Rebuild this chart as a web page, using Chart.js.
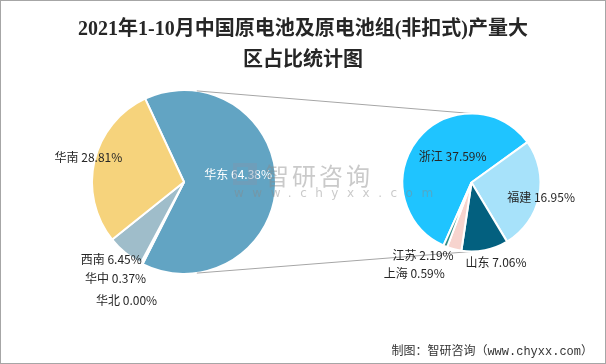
<!DOCTYPE html>
<html><head><meta charset="utf-8">
<script src="https://cdn.jsdelivr.net/npm/chart.js@4.4.0/dist/chart.umd.min.js"></script>
<style>
html,body{margin:0;padding:0;background:#fff;}
#wrap{position:relative;width:606px;height:364px;overflow:hidden;background:#fff;}
canvas{position:absolute;left:0;top:0;}
#frame{position:absolute;left:0;top:0;width:606px;height:364px;box-sizing:border-box;border:1px solid #a6a6a6;pointer-events:none;}
#title{position:absolute;left:0;top:13px;width:606px;text-align:center;font:bold 20px "Liberation Serif","Noto Sans CJK SC",serif;line-height:31px;color:#262626;}
#footer{position:absolute;right:13px;top:341px;font:12px "Liberation Mono","Noto Sans CJK SC",monospace;color:#333;white-space:nowrap;}
#wm{position:absolute;left:233px;top:161px;opacity:0.45;pointer-events:none;}
#wm .logo{position:absolute;left:0;top:2px;width:24px;height:22px;box-sizing:border-box;border:4px solid #7f98b0;border-right-width:9px;}
#wm .cn{position:absolute;left:32px;top:-4px;font:24px "Noto Sans CJK SC",sans-serif;letter-spacing:3px;color:#8a8a8a;white-space:nowrap;}
#wm .en{position:absolute;left:1px;top:25px;font:12px "DejaVu Sans",sans-serif;letter-spacing:8.5px;color:#8a8a8a;white-space:nowrap;}
</style></head>
<body>
<div id="wrap">
  <canvas id="c1" width="606" height="364"></canvas>
  <canvas id="c2" width="606" height="364"></canvas>
  <div id="title">2021年1-10月中国原电池及原电池组(非扣式)产量大<br>区占比统计图</div>
  <div id="wm"><div class="logo"></div><div class="cn">智研咨询</div><div class="en">www.chyxx.com</div></div>
  <div id="footer">制图：智研咨询（www.chyxx.com）</div>
  <div id="frame"></div>
</div>
<script>
// ---- data ----
const leftCategories = ['华东', '华北', '华中', '西南', '华南'];
const leftValues = [64.38, 0.00, 0.37, 6.45, 28.81];
const rightCategories = ['浙江', '福建', '山东', '江苏', '上海'];
const rightValues = [37.59, 16.95, 7.06, 2.19, 0.59];

// ---- styles ----
const leftColors = ['#62a4c3', '#8fb3c2', '#7fa9b8', '#9fbdca', '#f6d37c'];
const rightColors = ['#1fc4ff', '#a7e2fa', '#03607f', '#f7d4ce', '#2e8c88'];
const leftLabelStyle = [
  {f: 0.6, dx: -1, dy: -8, color: '#ffffff'},
  {f: 1, dx: -16, dy: 36, color: '#262626'},
  {f: 1, dx: -26, dy: 15, color: '#262626'},
  {f: 1, dx: -14, dy: 7, color: '#262626'},
  {f: 1, dx: -6, dy: -4, color: '#262626'}
];
const rightLabelStyle = [
  {f: 0.5, dx: 8, dy: -4, color: '#262626'},
  {f: 1, dx: 2, dy: 1, color: '#262626'},
  {f: 1, dx: 11, dy: 12, color: '#262626'},
  {f: 1, dx: -31, dy: 6, color: '#262626'},
  {f: 1, dx: -31, dy: 27, color: '#262626'}
];

function labelPlugin(cats, vals, styles) {
  return {
    id: 'sliceLabels',
    afterDatasetsDraw(chart) {
      const ctx = chart.ctx;
      const meta = chart.getDatasetMeta(0);
      ctx.save();
      ctx.font = '12px "Noto Sans CJK SC", sans-serif';
      ctx.textAlign = 'center';
      ctx.textBaseline = 'middle';
      meta.data.forEach((arc, i) => {
        const p = arc.getProps(['x', 'y', 'startAngle', 'endAngle', 'outerRadius'], true);
        const mid = (p.startAngle + p.endAngle) / 2;
        const s = styles[i];
        const x = p.x + Math.cos(mid) * p.outerRadius * s.f + s.dx;
        const y = p.y + Math.sin(mid) * p.outerRadius * s.f + s.dy;
        ctx.fillStyle = s.color;
        ctx.fillText(cats[i] + ' ' + vals[i].toFixed(2) + '%', x, y);
      });
      ctx.restore();
    }
  };
}

const leftChart = new Chart(document.getElementById('c1'), {
  type: 'pie',
  data: {labels: leftCategories, datasets: [{data: leftValues, backgroundColor: leftColors, borderColor: '#ffffff', borderWidth: 2}]},
  options: {
    responsive: false, animation: false, rotation: -25,
    layout: {padding: {left: 91, top: 89, right: 329, bottom: 89}},
    plugins: {legend: {display: false}, tooltip: {enabled: false}}
  },
  plugins: [labelPlugin(leftCategories, leftValues, leftLabelStyle)]
});

const connectorPlugin = {
  id: 'connectors',
  beforeDatasetsDraw(chart) {
    const la = leftChart.getDatasetMeta(0).data[0].getProps(['x', 'y', 'outerRadius'], true);
    const ra = chart.getDatasetMeta(0).data[0].getProps(['x', 'y', 'outerRadius'], true);
    const a = 8 * Math.PI / 180;
    const ctx = chart.ctx;
    ctx.save();
    ctx.strokeStyle = '#a6a6a6';
    ctx.lineWidth = 1;
    ctx.beginPath();
    ctx.moveTo(la.x + la.outerRadius * Math.sin(a), la.y - la.outerRadius * Math.cos(a));
    ctx.lineTo(ra.x, ra.y - ra.outerRadius);
    ctx.moveTo(la.x + la.outerRadius * Math.sin(a), la.y + la.outerRadius * Math.cos(a));
    ctx.lineTo(ra.x, ra.y + ra.outerRadius);
    ctx.stroke();
    ctx.restore();
  }
};

new Chart(document.getElementById('c2'), {
  type: 'pie',
  data: {labels: rightCategories, datasets: [{data: rightValues, backgroundColor: rightColors, borderColor: '#ffffff', borderWidth: 2}]},
  options: {
    responsive: false, animation: false, rotation: 204,
    layout: {padding: {left: 401.5, top: 112.5, right: 64.5, bottom: 111.5}},
    plugins: {legend: {display: false}, tooltip: {enabled: false}}
  },
  plugins: [connectorPlugin, labelPlugin(rightCategories, rightValues, rightLabelStyle)]
});
</script>
</body></html>
